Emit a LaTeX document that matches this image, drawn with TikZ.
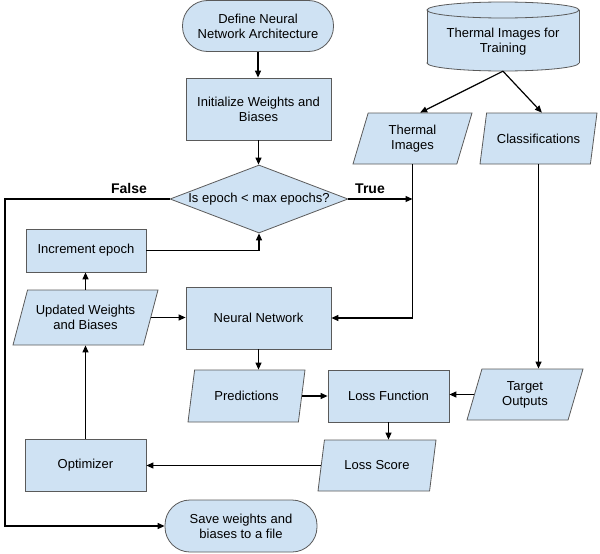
\documentclass[tikz,border=0pt]{standalone}
\usepackage{fontspec}
\setmainfont{Liberation Sans}
\usetikzlibrary{arrows.meta,shapes.geometric}
\definecolor{boxfill}{RGB}{207,226,243}
\definecolor{boxline}{RGB}{90,90,90}
\begin{document}
\begin{tikzpicture}[x=1pt,y=-1pt,
  every node/.style={font=\fontsize{13}{15}\selectfont, align=center},
  base/.style={draw=boxline, fill=boxfill, line width=0.8pt},
  proc/.style={base, rectangle},
  term/.style={base, rectangle, rounded corners=25pt},
  io/.style={base, trapezium, trapezium left angle=64, trapezium right angle=116, trapezium stretches body, inner xsep=2pt, inner ysep=2pt},
  decision/.style={base, diamond, aspect=2.6, inner sep=0pt},
  conn/.style={line width=1.2pt, -{Triangle[length=7pt,width=6pt]}},
  lbl/.style={font=\fontsize{14}{16}\selectfont\bfseries}
]
\useasboundingbox (0,0) rectangle (600,554);

% cylinder (data store)
\draw[base] (503,63) ellipse [x radius=76, y radius=8];
\fill[boxfill] (427,10) rectangle (579,63);
\draw[boxline, line width=0.8pt] (427,10) -- (427,63) (579,10) -- (579,63);
\draw[base] (503,10) ellipse [x radius=76, y radius=8];
\node[minimum width=152, minimum height=59, inner sep=0pt] (db) at (503,41.5) {Thermal Images for\\Training};

% nodes
\node[term, minimum width=151, minimum height=51] (def) at (258,26) {Define Neural\\Network Architecture};
\node[proc, minimum width=145, minimum height=62] (init) at (258.5,109) {Initialize Weights and\\Biases};
\node[decision, minimum width=178, minimum height=68] (dec) at (259,199) {Is epoch < max epochs?};
\node[proc, minimum width=120, minimum height=43] (inc) at (86,250.5) {Increment epoch};
\node[io, minimum width=145, minimum height=55, trapezium left angle=63, trapezium right angle=117] (upd) at (85.5,317.5) {Updated Weights\\and Biases};
\node[proc, minimum width=145, minimum height=62] (nn) at (258.5,318) {Neural Network};
\node[io, minimum width=117, minimum height=52] (pred) at (246.5,396) {Predictions};
\node[proc, minimum width=121, minimum height=52] (loss) at (388.5,396) {Loss Function};
\node[io, minimum width=116, minimum height=51] (tgt) at (525,394.5) {Target\\Outputs};
\node[io, minimum width=118, minimum height=51] (lscore) at (377,465.5) {Loss Score};
\node[proc, minimum width=121, minimum height=52] (opt) at (85.5,465) {Optimizer};
\node[term, minimum width=152, minimum height=52] (save) at (241,526) {Save weights and\\biases to a file};
\node[io, minimum width=119, minimum height=51] (ti) at (412.5,138.5) {Thermal\\Images};
\node[io, minimum width=117, minimum height=51] (cls) at (538.5,138.5) {Classifications};

% labels
\node[lbl] (flbl) at (129,188) {False};
\node[lbl] (tlbl) at (370,189) {True};

% connectors
\coordinate (fl) at (5,199);
\draw[conn] (def.south) -- (def.south |- init.north);
\draw[conn] (init.south) -- (init.south |- dec.north);
\draw[conn] (dec.west) -- (fl) |- (save.west);
\draw[conn] (dec.east) -- (dec.east -| ti.south);
\draw[conn] (ti.south) |- (nn.east);
\draw[conn] (inc.east) -| (dec.south);
\draw[conn] (upd.north) -- (upd.north |- inc.south);
\draw[conn] (upd.right side) -- (upd.right side -| nn.west);
\draw[conn] (nn.south) -- (nn.south |- pred.north);
\draw[conn] (pred.right side) -- (pred.right side -| loss.west);
\draw[conn] (tgt.left side) -- (tgt.left side -| loss.east);
\draw[conn] (cls.south) -- (cls.south |- tgt.north);
\draw[conn] (db.south) -- (ti.top side);
\draw[conn] (db.south) -- (cls.top side);
\draw[conn] (loss.south) -- (loss.south |- lscore.north);
\draw[conn] (lscore.left side) -- (lscore.left side -| opt.east);
\draw[conn] (opt.north) -- (opt.north |- upd.south);
\end{tikzpicture}
\end{document}
